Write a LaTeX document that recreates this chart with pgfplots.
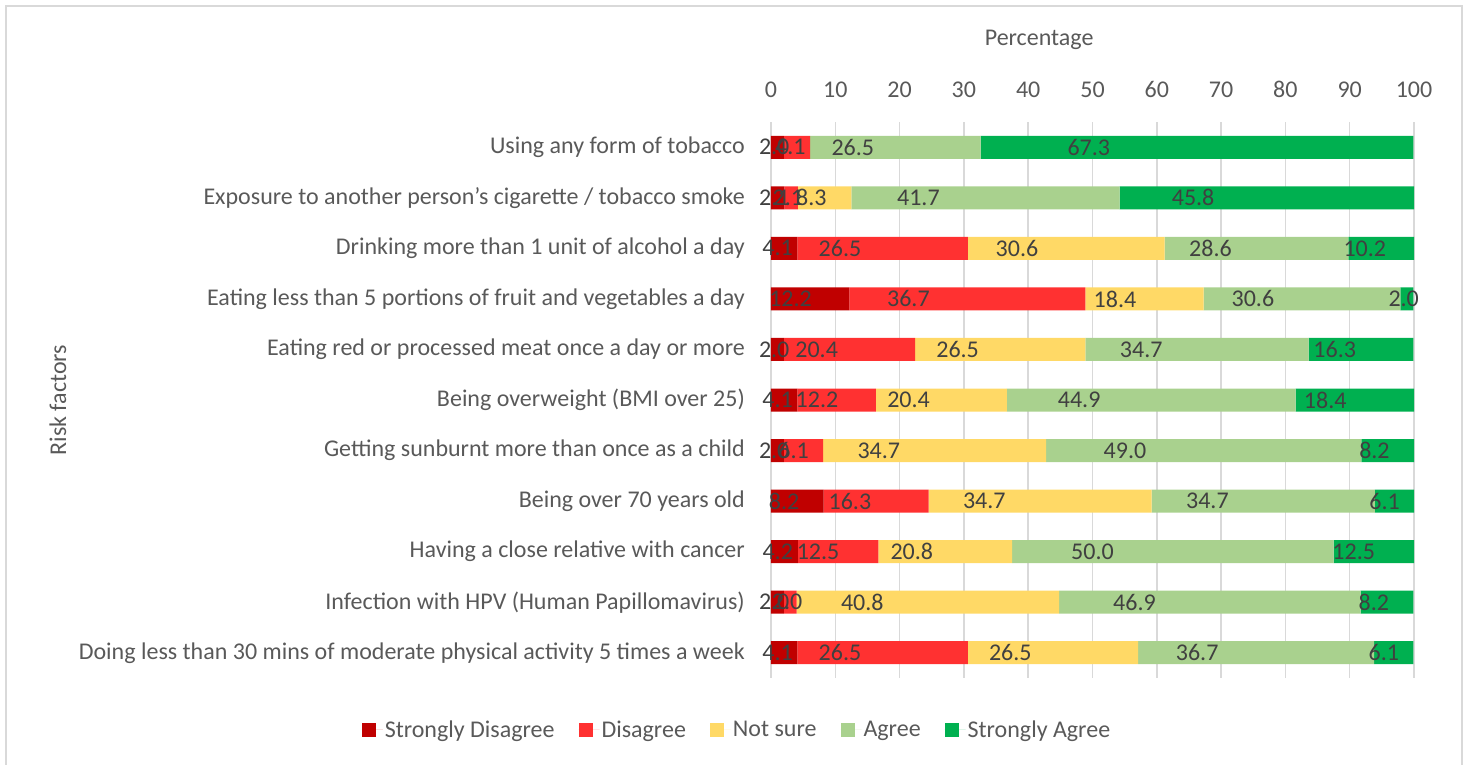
\documentclass[border=0pt]{standalone}
\usepackage{pgfplots}
\pgfplotsset{compat=1.18}
\usepackage{pgfplotstable}
\usepackage{fontspec}
\setmainfont{Carlito}
\definecolor{cSD}{HTML}{C00000}
\definecolor{cD}{HTML}{FF3131}
\definecolor{cNS}{HTML}{FFD966}
\definecolor{cA}{HTML}{A9D18E}
\definecolor{cSA}{HTML}{00B050}
\definecolor{txt}{HTML}{595959}
\definecolor{lbl}{HTML}{404040}
\definecolor{gridc}{HTML}{D9D9D9}
\pgfplotstableread{
idx sd d ns a sa
0 2.0 4.1 0.0 26.5 67.3
1 2.1 2.1 8.3 41.7 45.8
2 4.1 26.5 30.6 28.6 10.2
3 12.2 36.7 18.4 30.6 2.0
4 2.0 20.4 26.5 34.7 16.3
5 4.1 12.2 20.4 44.9 18.4
6 2.0 6.1 34.7 49.0 8.2
7 8.2 16.3 34.7 34.7 6.1
8 4.2 12.5 20.8 50.0 12.5
9 2.0 2.0 40.8 46.9 8.2
10 4.1 26.5 26.5 36.7 6.1
}\data
\pgfplotsset{seg/.style 2 args={fill=#1, draw=none, visualization depends on={\thisrow{#2}\as\w}}}
\begin{document}
\begin{tikzpicture}
\begin{axis}[
  name=ax,
  scale only axis,
  width=643pt, height=556pt,
  xbar stacked,
  bar width=23pt,
  xmin=0, xmax=100,
  ymin=-0.5, ymax=10.5,
  y dir=reverse,
  xtick={0,10,...,100},
  ytick={0,...,10},
  yticklabels={Using any form of tobacco,
    Exposure to another person’s cigarette / tobacco smoke,
    Drinking more than 1 unit of alcohol a day,
    Eating less than 5 portions of fruit and vegetables a day,
    Eating red or processed meat once a day or more,
    Being overweight (BMI over 25),
    Getting sunburnt more than once as a child,
    Being over 70 years old,
    Having a close relative with cancer,
    Infection with HPV (Human Papillomavirus),
    Doing less than 30 mins of moderate physical activity 5 times a week},
  xticklabel pos=upper,
  axis line style={draw=none},
  major tick length=0pt,
  xmajorgrids,
  grid style={gridc, line width=1.5pt},
  /pgf/number format/assume math mode=true,
  tick label style={font=\fontsize{24}{28}\selectfont, text=txt},
  xticklabel style={anchor=south, inner sep=0pt, yshift=24pt},
  yticklabel style={anchor=east, inner sep=0pt, xshift=-26pt},
  xlabel={Percentage},
  xlabel style={at={(axis description cs:0.417,1)}, anchor=base, yshift=76pt, font=\fontsize{24}{28}\selectfont, text=txt},
  ylabel={Risk factors},
  ylabel style={at={(axis description cs:-1.109,0.5)}, anchor=center, font=\fontsize{24}{28}\selectfont, text=txt},
  point meta=explicit symbolic,
  nodes near coords={\pgfplotspointmeta},
  every node near coord/.append style={anchor=center, xshift={-1.6075pt*\w}, inner sep=0pt, text=lbl, font=\fontsize{24}{28}\selectfont},
  legend columns=5,
  legend image code/.code={\fill[#1] (0pt,-7pt) rectangle (14pt,7pt); \path (0pt,0pt) -- (21pt,0pt);},
  legend style={draw=none, fill=none, at={(axis description cs:-0.0529,-0.0935)}, anchor=center,
    font=\fontsize{24}{28}\selectfont, text=txt,
    /tikz/every even column/.append style={column sep=22pt}},
]
\addplot[seg={cSD}{sd}] table[x=sd, y=idx, meta=sd] {\data};
\addplot[seg={cD}{d}] table[x=d, y=idx, meta=d] {\data};
\addplot[seg={cNS}{ns}] table[x=ns, y=idx, meta=ns] {\data};
\addplot[seg={cA}{a}] table[x=a, y=idx, meta=a] {\data};
\addplot[seg={cSA}{sa}] table[x=sa, y=idx, meta=sa] {\data};
\legend{Strongly Disagree, Disagree, Not sure, Agree, Strongly Agree}
\end{axis}
\path[use as bounding box] ([xshift=-771pt,yshift=-87pt]ax.south west) rectangle ([xshift=52pt,yshift=122pt]ax.north east);
\draw[gridc, line width=1.5pt] ([xshift=-765pt,yshift=-95pt]ax.south west) -- ([xshift=-765pt,yshift=116pt]ax.north west) -- ([xshift=48pt,yshift=116pt]ax.north east) -- ([xshift=48pt,yshift=-95pt]ax.south east);
\end{tikzpicture}
\end{document}
